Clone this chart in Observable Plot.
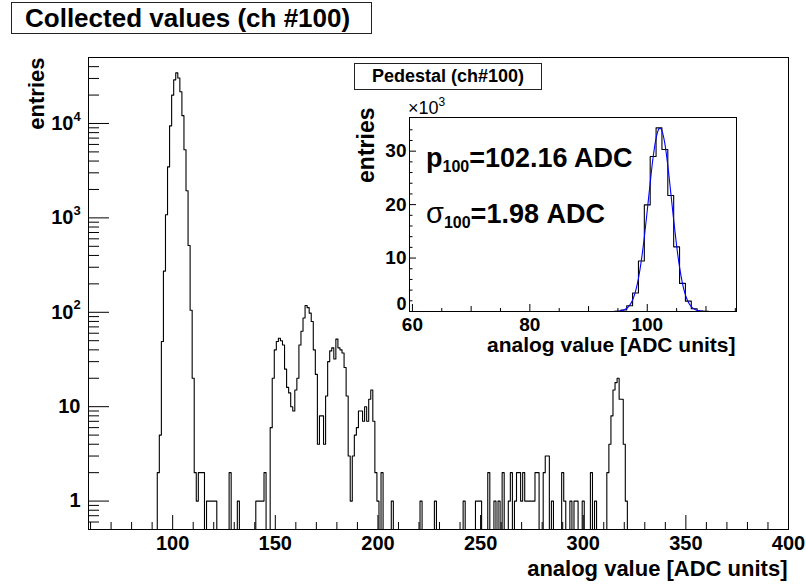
<!DOCTYPE html>
<html><head><meta charset="utf-8">
<script src="https://cdn.jsdelivr.net/npm/d3@7"></script>
<script src="https://cdn.jsdelivr.net/npm/@observablehq/plot@0.6"></script>
<style>
body{margin:0;background:#fff;font-family:"Liberation Sans",Arial,sans-serif;}
#wrap{position:relative;width:806px;height:587px;overflow:hidden;background:#fff}
#wrap svg{position:absolute;}
.box{position:absolute;border:1px solid #222;background:#fff;font-weight:bold;box-sizing:border-box;white-space:nowrap;color:#000}
.t{position:absolute;font-weight:bold;white-space:nowrap;line-height:1;color:#000}
</style></head><body>
<div id="wrap"></div>
<script>
// ---- data: ADC bin (integer) and entries (bins not listed are empty)
const adcBins = [93,94,95,96,97,98,99,100,101,102,103,104,105,106,107,108,109,110,111,112,113,114,115,
  117,118,119,120,121,128,132,141,142,143,144,145,
  148,149,150,151,152,153,154,155,156,157,158,159,160,161,162,163,164,165,166,167,168,169,170,
  171,172,173,174,175,176,177,178,179,180,181,182,183,184,185,186,187,188,189,190,191,192,193,194,
  195,196,197,198,199,200,202,207,221,228,242,248,249,250,254,257,259,261,264,265,
  267,268,269,270,271,272,273,274,275,276,277,278,281,282,283,285,290,291,294,296,297,300,304,306,
  312,313,314,315,316,317,318,319,320,321];
const entries = [2,5,49,273,1080,3470,9440,19950,29000,34350,30300,21700,12100,5260,1935,510,105,20,2,1,2,2,2,
  1,1,1,1,1,2,1,1,1,1,1,2,
  6,20,40,49,53,50,45,25,16,14,10,9,15,20,45,63,87,118,112,98,80,40,22,
  4,8,8,4,13,30,39,42,32,52,42,40,37,26,13,3,1,3,5,6,9,9,7,10,
  7,12,15,7,2,1,2,1,1,1,1,1,1,1,2,1,1,2,1,2,
  1,2,2,1,2,1,1,1,1,1,2,2,2,3,3,1,2,1,1,1,1,1,2,1,
  2,4,8,15,18,20,12,12,4,1];

// Gaussian fit curve of the inset (x in ADC, y in 10^3 entries)
const fitX = [93,94,95,96,97,97.5,98,98.5,99,99.5,100,100.5,101,101.5,102,102.2,102.5,103,103.5,104,104.5,105,105.5,106,106.5,107,107.5,108,109,110,111,112];
const fitY = [0,0.01,0.05,0.27,1.14,2.15,3.77,6.2,9.6,13.9,18.9,24.1,28.9,32.4,34.2,34.3,33.8,31.4,27.3,22.3,17.1,12.3,8.3,5.23,3.1,1.74,0.9,0.44,0.09,0.01,0,0];

// ---- tick labels
const xMajor = [100,150,200,250,300,350,400];
const xMajorLabels = ["100","150","200","250","300","350","400"];
const yMajor = [1,10,100,1000,10000];
const yBase = ["1","10","10","10","10"];
const yExp = ["","","2","3","4"];
const inXMajor = [60,80,100];
const inXLabels = ["60","80","100"];
const inYMajor = [0,10,20,30];
const inYLabels = ["0","10","20","30"];

const FONT = "Liberation Sans, Arial, Helvetica, sans-serif";
const wrap = document.getElementById("wrap");

// ---- build histogram outline (step) points
const counts = new Map(adcBins.map((a, i) => [a, entries[i]]));
const hist = [];
for (let a = 60; a <= 400; a++) hist.push({lo: a - 0.5, n: counts.get(a) || 0});
hist.push({lo: 400.5, n: 0});

const xMinor = d3.range(60, 401, 10).filter(v => !xMajor.includes(v));
const yMinor = [];
for (const dec of [0.1, 1, 10, 100, 1000, 10000]) for (let k = 2; k <= 9; k++) {
  const v = k * dec; if (v >= 0.5 && v <= 50000 && !(dec === 0.1 && k < 6)) yMinor.push(v);
}
const FH = 472, FW = 700; // frame size in px

const main = Plot.plot({
  width: 806, height: 587,
  marginLeft: 88, marginRight: 18, marginTop: 57, marginBottom: 58,
  style: {fontFamily: FONT, background: "transparent", overflow: "visible", color: "#000"},
  x: {domain: [59, 400], axis: null},
  y: {type: "log", domain: [0.5, 50000], axis: null},
  marks: [
    Plot.line(hist, {x: "lo", y: d => Math.max(d.n, 0.5), curve: "step-after", stroke: "#000", strokeWidth: 1.1, clip: true}),
    Plot.frame({stroke: "#000", strokeWidth: 1}),
    Plot.tickX(xMajor, {x: d => d, insetTop: FH - 14, stroke: "#000"}),
    Plot.tickX(xMinor, {x: d => d, insetTop: FH - 7, stroke: "#000"}),
    Plot.tickY(yMajor, {y: d => d, insetRight: FW - 21, stroke: "#000"}),
    Plot.tickY(yMinor, {y: d => d, insetRight: FW - 11, stroke: "#000"}),
    Plot.text(xMajor, {x: d => d, text: (d, i) => xMajorLabels[i], frameAnchor: "bottom", dy: 14, lineAnchor: "middle", fontSize: 20, fontWeight: "bold", fill: "#000"}),
    Plot.text(yMajor.filter((d, i) => yExp[i] === ""), {y: d => d, text: d => yBase[yMajor.indexOf(d)], frameAnchor: "left", dx: -8, textAnchor: "end", lineAnchor: "middle", fontSize: 20, fontWeight: "bold", fill: "#000"}),
    Plot.text(yMajor.filter((d, i) => yExp[i] !== ""), {y: d => d, text: d => yBase[yMajor.indexOf(d)], frameAnchor: "left", dx: -15, textAnchor: "end", lineAnchor: "middle", fontSize: 20, fontWeight: "bold", fill: "#000"}),
    Plot.text(yMajor.filter((d, i) => yExp[i] !== ""), {y: d => d, text: d => yExp[yMajor.indexOf(d)], frameAnchor: "left", dx: -15, dy: -7, textAnchor: "start", lineAnchor: "middle", fontSize: 13, fontWeight: "bold", fill: "#000"}),
    Plot.text(["analog value [ADC units]"], {text: d => d, frameAnchor: "bottom-right", dx: -1, dy: 39, textAnchor: "end", lineAnchor: "middle", fontSize: 22, fontWeight: "bold", fill: "#000"}),
    Plot.text(["entries"], {text: d => d, frameAnchor: "top-left", dx: -52, dy: 0, rotate: -90, textAnchor: "end", lineAnchor: "middle", fontSize: 22, fontWeight: "bold", fill: "#000"})
  ]
});
main.style.left = "0px"; main.style.top = "0px";
wrap.appendChild(main);

// ---- inset
const inHist = [];
for (let a = 60; a <= 115; a++) inHist.push({lo: a - 0.5, k: (counts.get(a) || 0) / 1000});
inHist.push({lo: 115.5, k: 0});
const fit = fitX.map((x, i) => ({x, y: fitY[i]}));
const inXSec = [70, 90, 110];
const inXTer = [65, 75, 85, 95, 105, 115];
const inYMinor = d3.range(2, 36, 2).filter(v => v % 10 !== 0);
const IFH = 194, IFW = 327;
const yLab = inYMajor.map((v, i) => ({v, t: inYLabels[i]}));

const inset = Plot.plot({
  width: 400, height: 290,
  marginLeft: 69, marginRight: 4, marginTop: 57, marginBottom: 39,
  style: {fontFamily: FONT, background: "transparent", overflow: "visible", color: "#000"},
  x: {domain: [59.5, 115.2], axis: null},
  y: {domain: [0, 36.3], axis: null},
  marks: [
    Plot.line(inHist, {x: "lo", y: "k", curve: "step-after", stroke: "#000", strokeWidth: 1.1, clip: true}),
    Plot.line(fit, {x: "x", y: "y", curve: "monotone-x", stroke: "#0000ff", strokeWidth: 1.1, clip: true}),
    Plot.frame({stroke: "#000", strokeWidth: 1}),
    Plot.tickX(inXMajor, {x: d => d, insetTop: IFH - 7, stroke: "#000"}),
    Plot.tickX(inXSec, {x: d => d, insetTop: IFH - 5, stroke: "#000"}),
    Plot.tickX(inXTer, {x: d => d, insetTop: IFH - 3, stroke: "#000"}),
    Plot.tickY(inYMajor, {y: d => d, insetRight: IFW - 7, stroke: "#000"}),
    Plot.tickY(inYMinor, {y: d => d, insetRight: IFW - 3.5, stroke: "#000"}),
    Plot.text(inXMajor, {x: d => d, text: (d, i) => inXLabels[i], frameAnchor: "bottom", dy: 13, lineAnchor: "middle", fontSize: 19, fontWeight: "bold", fill: "#000"}),
    Plot.text(yLab.filter(d => d.v !== 0), {y: "v", text: "t", frameAnchor: "left", dx: -3, textAnchor: "end", lineAnchor: "middle", fontSize: 19, fontWeight: "bold", fill: "#000"}),
    Plot.text(yLab.filter(d => d.v === 0), {y: "v", text: "t", frameAnchor: "left", dx: -3, dy: -7, textAnchor: "end", lineAnchor: "middle", fontSize: 18, fontWeight: "bold", fill: "#000"}),
    Plot.text(["analog value [ADC units]"], {text: d => d, frameAnchor: "bottom-right", dx: -1, dy: 34, textAnchor: "end", lineAnchor: "middle", fontSize: 21, fontWeight: "bold", fill: "#000"}),
    Plot.text(["entries"], {text: d => d, frameAnchor: "top-left", dx: -43, dy: -10, rotate: -90, textAnchor: "end", lineAnchor: "middle", fontSize: 23, fontWeight: "bold", fill: "#000"})
  ]
});
inset.style.left = "340px"; inset.style.top = "60px";
wrap.appendChild(inset);

// ---- titles and annotations (real text)
function addDiv(cls, html, css) {
  const d = document.createElement("div");
  d.className = cls; d.innerHTML = html; d.style.cssText += css; wrap.appendChild(d);
  return d;
}
addDiv("box", "Collected values (ch #100)", "left:11px;top:2px;width:361px;height:32px;font-size:26px;line-height:30px;padding-left:13px;");
addDiv("box", "Pedestal (ch#100)", "left:354px;top:63px;width:188px;height:27px;font-size:18px;line-height:25px;text-align:center;");
addDiv("t", "&times;10<span style=\"font-size:12px;position:relative;top:-8px\">3</span>", "left:408px;top:99px;font-size:18px;font-weight:normal;");
addDiv("t", "p<span style=\"font-size:16px;position:relative;top:5px\">100</span>=102.16 ADC", "left:426px;top:145px;font-size:27px;");
addDiv("t", "<span style=\"font-weight:normal;font-size:29px\">&sigma;</span><span style=\"font-size:16px;position:relative;top:5px\">100</span>=1.98 ADC", "left:426px;top:199px;font-size:27px;");
</script>
</body></html>
